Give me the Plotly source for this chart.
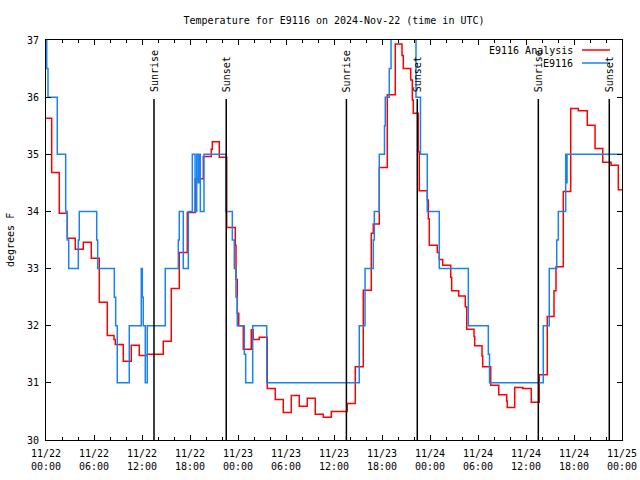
import pandas as pd
import plotly.graph_objects as go

BASE = pd.Timestamp("2024-11-22 00:00")

# Analysis series: step change times (hours after 11/22 00:00 UTC) and values (deg F)
analysis_hours = [0, 0.71, 1.66, 2.66, 3.66, 4.66, 5.66, 6.66, 7.66, 8.5, 8.66, 9.66, 10.66,
                  11.66, 12.66, 14.66, 15.66, 16.66, 17.66, 18.66, 19.66, 20.66, 20.79, 21.66,
                  22.59, 23.66, 23.75, 23.91, 24.09, 24.66, 25.66, 25.91, 26.66, 27.66, 28.66,
                  29.66, 30.66, 31.66, 32.66, 33.66, 34.66, 35.66, 37.66, 38.66, 39.66, 40.66,
                  40.91, 41.66, 42.66, 43.66, 44.5, 44.66, 45.59, 45.79, 45.91, 46.54, 46.66,
                  47.66, 47.79, 47.91, 48.91, 49.16, 49.59, 50.59, 50.71, 51.59, 52.41, 52.59,
                  53.5, 53.59, 54.5, 54.59, 55.59, 56.59, 57.59, 57.66, 58.59, 59.59, 60.66,
                  61.66, 62.66, 63.5, 63.75, 64.66, 65.59, 66.54, 67.66, 68.63, 69.59, 70.63,
                  71.54, 72]
analysis_temps = [35.63, 34.68, 33.97, 33.53, 33.34, 33.46, 33.18, 32.41, 31.83, 31.76, 31.67,
                  31.38, 31.66, 31.48, 31.50, 31.73, 32.65, 33.28, 33.98, 34.57, 34.96, 35.09,
                  35.22, 34.95, 33.72, 33.41, 32.81, 32.22, 32.00, 31.59, 31.93, 31.76, 31.80,
                  30.90, 30.71, 30.48, 30.78, 30.59, 30.73, 30.45, 30.40, 30.50, 30.64, 31.28,
                  32.62, 33.62, 33.78, 34.77, 36.04, 36.93, 36.73, 36.50, 36.30, 35.95, 35.72,
                  35.04, 34.36, 34.20, 33.87, 33.41, 33.28, 33.16, 33.06, 32.85, 32.61, 32.52,
                  32.33, 31.94, 31.81, 31.65, 31.47, 31.28, 30.96, 30.79, 30.68, 30.57, 30.92,
                  30.90, 30.66, 31.14, 32.16, 32.61, 33.03, 34.35, 35.80, 35.76, 35.51, 35.10,
                  34.86, 34.81, 34.38, 34.38]

# Station observations E9116
obs_hours = [0, 0.09, 0.25, 1.41, 2.46, 2.66, 2.84, 4.04, 4.16, 6.34, 6.46, 8.54, 8.71, 8.91,
             10.41, 11.91, 12.04, 12.16, 12.41, 12.66, 14.91, 16.54, 16.66, 17.16, 17.79, 18.29,
             18.63, 18.84, 19.04, 19.16, 19.29, 19.75, 22.5, 23.29, 23.54, 23.75, 23.91, 24.79,
             24.96, 25.84, 27.59, 39.16, 39.88, 40.91, 41.04, 41.66, 42.31, 42.41, 42.91, 43.13,
             46.25, 46.81, 47.66, 49.16, 52.79, 55.29, 55.44, 62.16, 62.91, 63.84, 64.04, 64.96,
             65.04, 65.13, 72]
obs_temps = [37.3, 36.5, 36.0, 35.0, 34.0, 33.5, 33.0, 33.5, 34.0, 33.5, 33.0, 32.5, 32.0, 31.0,
             32.0, 33.0, 32.5, 32.0, 31.0, 32.0, 33.0, 33.5, 34.0, 33.0, 34.0, 35.0,
             34.0, 35.0, 34.5, 35.0, 34.0, 35.0, 34.0, 33.5, 33.0, 32.5, 32.0, 31.5,
             31.0, 32.0, 31.0, 32.0, 33.0, 33.5, 34.0, 35.0, 35.5, 36.0, 36.5, 37.3,
             36.0, 35.0, 34.0, 33.0, 32.0, 31.5, 31.0, 32.0, 33.0, 33.5, 34.0, 35.0,
             34.5, 35.0, 35.0]

sun_hours = [13.5, 22.53, 37.55, 46.41, 61.54, 70.41]
sun_labels = ["Sunrise", "Sunset", "Sunrise", "Sunset", "Sunrise", "Sunset"]
series_names = ["E9116 Analysis", "E9116"]
series_colors = ["#ff0000", "#1a82f0"]

def to_time(hours):
    return [BASE + pd.Timedelta(hours=h) for h in hours]

FONT = "DejaVu Sans Mono"
W, H = 640, 480
ML, MT = 46, 40
PW, PH = 576, 400

fig = go.Figure()
fig.add_trace(go.Scatter(x=to_time(analysis_hours), y=analysis_temps, mode="lines",
                         line=dict(shape="hv", color=series_colors[0], width=1.5),
                         name=series_names[0], showlegend=False))
fig.add_trace(go.Scatter(x=to_time(obs_hours), y=obs_temps, mode="lines",
                         line=dict(shape="hv", color=series_colors[1], width=1.5),
                         name=series_names[1], showlegend=False))

shapes = []
annotations = []
for h, lab in zip(sun_hours, sun_labels):
    t = BASE + pd.Timedelta(hours=h)
    shapes.append(dict(type="line", xref="x", yref="paper", x0=t, x1=t, y0=0, y1=0.8525,
                       line=dict(color="black", width=1.5)))
    annotations.append(dict(x=t, xref="x", y=0.865, yref="paper", text=lab, textangle=-90,
                            showarrow=False, xanchor="center", yanchor="bottom",
                            font=dict(family=FONT, size=10, color="black")))

# legend (gnuplot style: text right-aligned, sample line to the right)
for i, (nm, col) in enumerate(zip(series_names, series_colors)):
    ypx = 10 + 13 * i  # px below plot top
    yp = (PH - ypx) / PH
    annotations.append(dict(x=(575 - ML) / PW, xref="paper", y=yp, yref="paper", text=nm,
                            showarrow=False, xanchor="right", yanchor="middle",
                            font=dict(family=FONT, size=10, color="black")))
    shapes.append(dict(type="line", xref="paper", yref="paper", x0=(582 - ML) / PW,
                       x1=(610 - ML) / PW, y0=yp, y1=yp, line=dict(color=col, width=1.5)))

annotations.append(dict(x=(10 - ML) / PW, xref="paper", y=0.5, yref="paper", text="degrees F",
                        textangle=-90, showarrow=False, xanchor="center", yanchor="middle",
                        font=dict(family=FONT, size=10, color="black")))

fig.update_layout(
    width=W, height=H,
    margin=dict(l=ML, r=W - ML - PW, t=MT, b=H - MT - PH, autoexpand=False),
    paper_bgcolor="white", plot_bgcolor="white",
    title=dict(text="Temperature for E9116 on 2024-Nov-22 (time in UTC)",
               x=(ML + PW / 2) / W, xanchor="center", y=1 - 20 / H, yanchor="middle",
               font=dict(family=FONT, size=10, color="black")),
    font=dict(family=FONT, size=10, color="black"),
    shapes=shapes, annotations=annotations,
)
fig.update_xaxes(type="date", range=[BASE, BASE + pd.Timedelta(hours=72)],
                 tick0=BASE, dtick=6 * 3600 * 1000, tickformat="%m/%d<br>%H:%M",
                 ticks="inside", ticklen=5, tickcolor="black", showgrid=False,
                 showline=True, linecolor="black", linewidth=1, mirror="allticks",
                 minor=dict(dtick=2 * 3600 * 1000, ticks="inside", ticklen=3, tickcolor="black",
                            showgrid=False),
                 zeroline=False, ticklabelstandoff=4)
fig.update_yaxes(range=[30, 37], dtick=1, ticks="inside", ticklen=5, tickcolor="black",
                 showgrid=False, showline=True, linecolor="black", linewidth=1,
                 mirror="allticks", zeroline=False, ticklabelstandoff=4)
fig.write_html("out.html", config={"displayModeBar": False},
               post_script="document.body.style.margin='0';document.body.style.overflow='hidden';")
